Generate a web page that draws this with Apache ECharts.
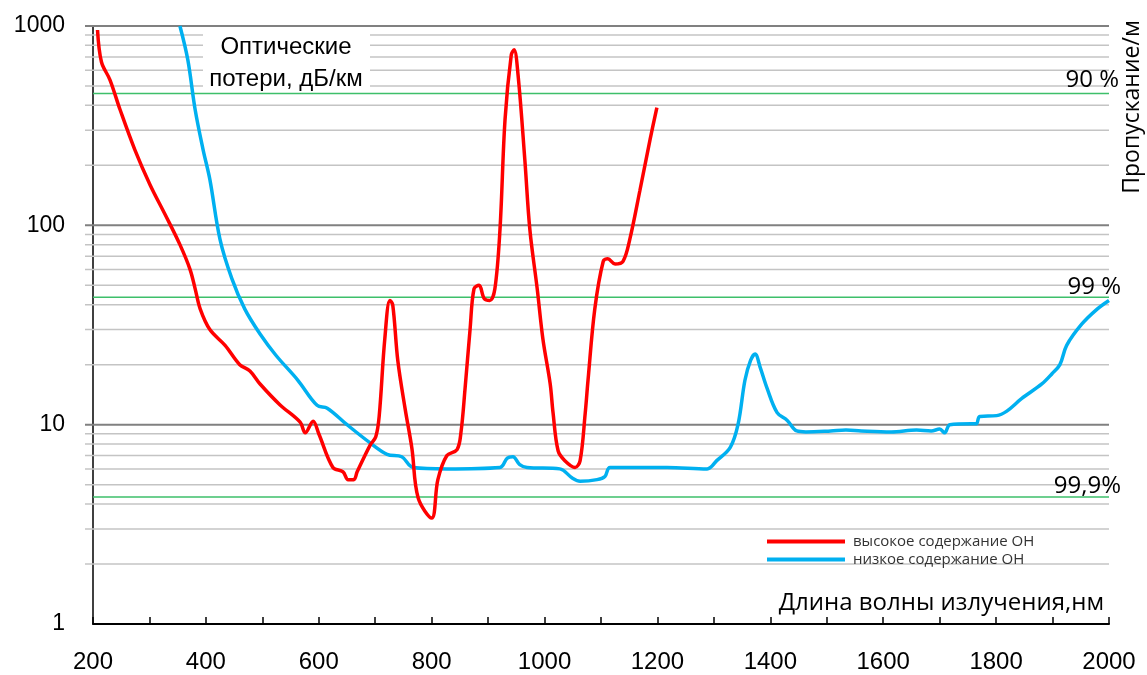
<!DOCTYPE html>
<html>
<head>
<meta charset="utf-8">
<script src="https://cdn.jsdelivr.net/npm/echarts@6/dist/echarts.min.js"></script>
<style>html,body{margin:0;padding:0;background:#fff}#c{width:1147px;height:675px}</style>
</head>
<body>
<div id="c"></div>
<script>
// Wavelength (nm) and loss (dB/km) for high-OH fiber
const highOH_nm   = [208,215,230,248,274,301,328,354,372,381,390,407,434,460,478,496,531,567,576,590,600,625,643,652,662,668,691,701,707,717,726,731,740,753,765,776,800,811,827,845,852,859,868,875,884,893,903,912,921,930,941,946,953,965,974,987,997,1010,1015,1024,1036,1054,1063,1072,1077,1089,1104,1112,1125,1139,1151,1169,1187,1199];
const highOH_loss = [955,660,537,380,240,160,113,80,60,48,38,30,25,20,18.6,16,12.6,10.3,9.1,10.4,9.0,6.1,5.8,5.3,5.3,5.8,7.9,8.7,11,27,42,40,21,12,7.6,4.3,3.4,5.3,7.0,7.5,9.2,15,30,48,50,43,42,48,95,340,716,760,570,214,95,48,27,16,11.5,7.4,6.6,6.1,6.6,11.4,16.7,38,66,68,64,66,85,150,270,390];
// Wavelength (nm) and loss (dB/km) for low-OH fiber
const lowOH_nm   = [354,368,381,395,407,425,446,469,496,524,563,597,615,650,691,721,747,767,827,921,934,944,956,969,1027,1049,1063,1093,1107,1116,1217,1288,1305,1329,1343,1355,1365,1373,1382,1394,1412,1430,1447,1463,1507,1534,1561,1614,1659,1685,1700,1709,1718,1756,1765,1771,1801,1819,1845,1881,1899,1913,1925,1952,1979,2000];
const lowOH_loss = [1000,676,380,240,170,85,54,38,28.5,22.3,16.7,12.5,12.1,10.0,8.1,7.1,6.9,6.1,6.0,6.1,6.8,6.9,6.3,6.1,6.0,5.4,5.2,5.3,5.5,6.1,6.1,6.0,6.6,7.7,10.1,16.7,21,22.6,19.4,15.3,11.5,10.5,9.3,9.2,9.3,9.4,9.3,9.2,9.4,9.3,9.5,9.1,10.0,10.1,10.1,11,11.1,11.7,13.5,16,18,20,25,32,38,42];
// Horizontal reference levels
const majorLevels = [10,100,1000];
const minorLevels = [2,3,4,5,6,7,8,9,20,30,40,50,60,70,80,90,200,300,400,500,600,700,800,900];
const transmissionLevels = [458,43.6,4.34];   // 90 %, 99 %, 99,9 % per metre
const transmissionLabels = ['90 %','99 %','99,9%'];
const xTickLabels = [200,400,600,800,1000,1200,1400,1600,1800,2000];
const seriesNames = ['высокое содержание ОН','низкое содержание ОН'];

const zip = (a,b) => a.map((v,i)=>[v,b[i]]);
const levelData = []
  .concat(minorLevels.map(v=>[v,0]))
  .concat(majorLevels.map(v=>[v,1]))
  .concat(transmissionLevels.map(v=>[v,2]));

const chart = echarts.init(document.getElementById('c'));
chart.setOption({
  animation:false,
  grid:{left:93,right:38,top:26,bottom:51},
  xAxis:{type:'value',min:200,max:2000,interval:100,
    axisLine:{lineStyle:{color:'#000',width:2}},
    axisTick:{inside:true,length:7,lineStyle:{color:'#000',width:1.5}},
    splitLine:{show:false},
    axisLabel:{margin:26,fontSize:24,fontFamily:'Liberation Sans, Arial',color:'#000',
      formatter:v=> xTickLabels.indexOf(v)>=0 ? String(v) : ''}},
  yAxis:{type:'log',logBase:10,min:1,max:1000,
    axisLine:{show:true,lineStyle:{color:'#000',width:1.5}},
    axisTick:{show:false},splitLine:{show:false},
    axisLabel:{margin:28,fontSize:23,fontFamily:'Liberation Sans, Arial',color:'#000',
      formatter:v=>String(Math.round(v))}},
  legend:{orient:'vertical',left:762,top:529,icon:'rect',itemWidth:78,itemHeight:4,itemGap:3,
    data:seriesNames,
    textStyle:{fontSize:15,fontFamily:'Open Sans',color:'#333',padding:[0,0,0,3]}},
  series:[
    {type:'custom',z:1,silent:true,clip:false,data:levelData,
      encode:{x:-1,y:0},
      renderItem:(params,api)=>{
        const v=api.value(0), t=api.value(1);
        const p0=api.coord([200,v]), p1=api.coord([2000,v]);
        const styles=[{stroke:'#c4c4c4',lineWidth:1.5},{stroke:'#808080',lineWidth:2},{stroke:'#3dbf6a',lineWidth:1.5}];
        const x0 = t===2 ? p0[0] : p0[0]-8;
        return {type:'line',shape:{x1:x0,y1:p0[1],x2:p1[0],y2:p1[1]},style:styles[t]};
      }},
    {name:seriesNames[0],type:'line',z:3,data:zip(highOH_nm,highOH_loss),smooth:0.35,showSymbol:false,
      lineStyle:{color:'#ff0000',width:3.5},itemStyle:{color:'#ff0000'}},
    {name:seriesNames[1],type:'line',z:2,data:zip(lowOH_nm,lowOH_loss),smooth:0.35,showSymbol:false,
      lineStyle:{color:'#00b0f0',width:3.5},itemStyle:{color:'#00b0f0'}}
  ],
  graphic:[
    {type:'rect',left:203,top:30,shape:{width:167,height:61},style:{fill:'#fff'},z:10},
    {type:'text',x:286,y:47,z:11,style:{text:'Оптические',font:'24px "Liberation Sans", Arial',fill:'#000',align:'center',verticalAlign:'middle'}},
    {type:'text',x:286,y:79,z:11,style:{text:'потери, дБ/км',font:'24px "Liberation Sans", Arial',fill:'#000',align:'center',verticalAlign:'middle'}},
    {type:'text',x:1119,y:80,z:11,style:{text:transmissionLabels[0],font:'24px "Open Sans"',fill:'#000',align:'right',verticalAlign:'middle'}},
    {type:'text',x:1121,y:287,z:11,style:{text:transmissionLabels[1],font:'24px "Open Sans"',fill:'#000',align:'right',verticalAlign:'middle'}},
    {type:'text',x:1121,y:486,z:11,style:{text:transmissionLabels[2],font:'24px "Open Sans"',fill:'#000',align:'right',verticalAlign:'middle'}},
    {type:'text',x:1132,y:107,rotation:Math.PI/2,z:11,style:{text:'Пропускание/м',font:'23px "Open Sans"',fill:'#000',align:'center',verticalAlign:'middle'}},
    {type:'text',x:1104,y:603,z:11,style:{text:'Длина волны излучения,нм',font:'24px "Open Sans"',fill:'#000',align:'right',verticalAlign:'middle'}}
  ]
});
</script>
</body>
</html>
